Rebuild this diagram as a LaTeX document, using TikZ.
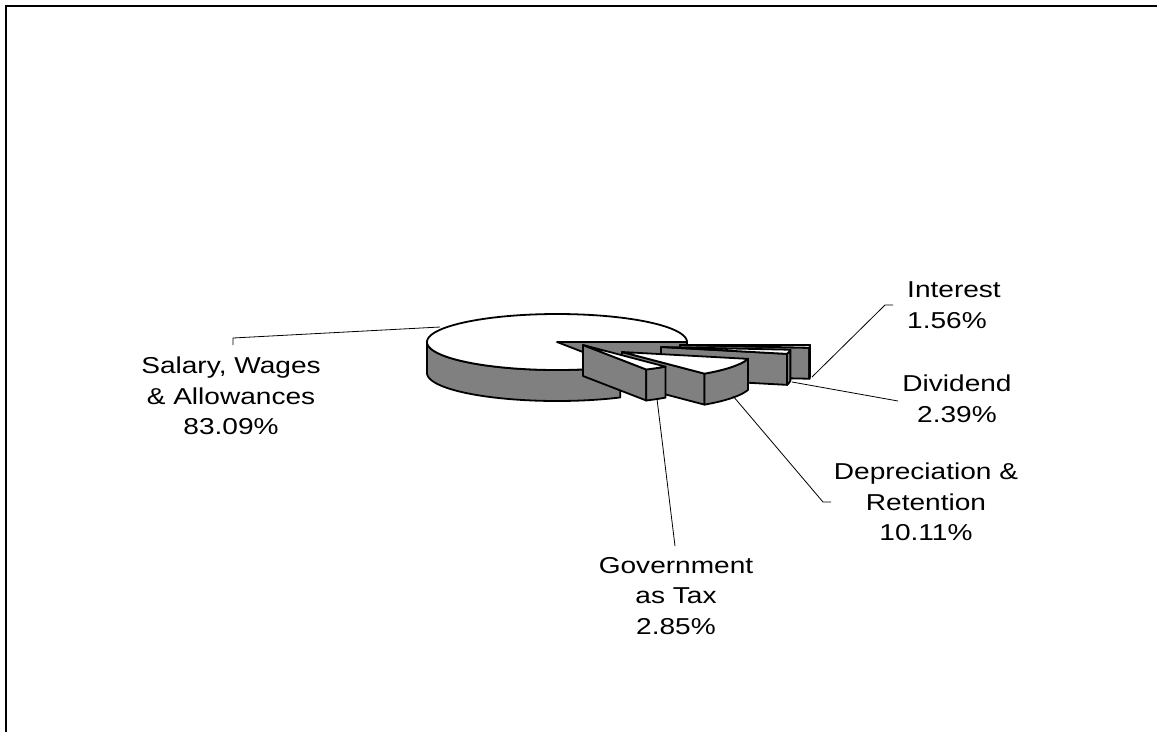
\documentclass[tikz,border=0pt]{standalone}
\usepackage{fontspec}
\newfontfamily\labfont[FakeStretch=1.22]{Liberation Sans}
\definecolor{pgray}{RGB}{128,128,128}
\newcommand\xslice[4]{%
  \filldraw[sideface] ({#1},{#2}) -- ({#1+130*cos(#3)},{#2-28*sin(#3)}) -- ({#1+130*cos(#3)},{#2-28*sin(#3)+31}) -- ({#1},{#2+31}) -- cycle;
  \filldraw[sideface] plot[domain=#3:#4,samples=24] ({#1+130*cos(\x)},{#2-28*sin(\x)}) -- plot[domain=#4:#3,samples=24] ({#1+130*cos(\x)},{#2-28*sin(\x)+31}) -- cycle;
  \filldraw[topface] ({#1},{#2}) -- plot[domain=#3:#4,samples=24] ({#1+130*cos(\x)},{#2-28*sin(\x)}) -- cycle;
}
\begin{document}
\begin{tikzpicture}[x=1pt,y=-1pt,
  sideface/.style={fill=pgray, draw=black, line width=1.8pt, line join=round},
  topface/.style={fill=white, draw=black, line width=1.8pt, line join=round},
  leader/.style={draw=black, line width=0.8pt},
  lab/.style={font=\labfont\fontsize{23}{30.5}\selectfont, align=center, inner sep=0pt}]
\useasboundingbox (0,0) rectangle (1157,732);
% frame
\draw[line width=1.6pt] (6,732) -- (6,6) -- (1157,6);
% big slice
\filldraw[sideface] (557,342) -- (687,342) -- (687,373) -- (557,373) -- cycle;
\filldraw[sideface] plot[domain=180:299.1,samples=50] ({557+130*cos(\x)},{342-28*sin(\x)}) -- plot[domain=299.1:180,samples=50] ({557+130*cos(\x)},{373-28*sin(\x)}) -- cycle;
\filldraw[topface] (557,342) -- plot[domain=0:299.1,samples=100] ({557+130*cos(\x)},{342-28*sin(\x)}) -- cycle;
% exploded slices
\xslice{680}{345}{-5.6}{0}
\xslice{661}{347}{-14.2}{-5.6}
\xslice{622}{352}{-50.6}{-14.2}
\xslice{583}{345}{-60.9}{-50.6}
% labels
\node[lab] (sal) at (231,396) {Salary, Wages\\\& Allowances\\83.09\%};
\node[lab, align=left, anchor=west] (int) at (907,305) {Interest\\1.56\%};
\node[lab] (div) at (957,399) {Dividend\\2.39\%};
\node[lab] (dep) at (926,502) {Depreciation \&\\Retention\\10.11\%};
\node[lab] (gov) at (676,596) {Government\\as Tax\\2.85\%};
% leader ends
\coordinate (psal) at (440,327);
\coordinate (tsal) at (233,338);
\coordinate (lsal) at (233,345);
\coordinate (pint) at (812,377);
\coordinate (tint) at (885,305);
\coordinate (lint) at (893,305);
\coordinate (pdiv) at (792,382);
\coordinate (ldiv) at (898,401);
\coordinate (pdep) at (733,396);
\coordinate (tdep) at (823,502);
\coordinate (ldep) at (831,502);
\coordinate (pgov) at (657,399);
\coordinate (lgov) at (675,546);
\draw[leader] (psal) -- (tsal) -- (lsal);
\draw[leader] (pint) -- (tint) -- (lint);
\draw[leader] (pdiv) -- (ldiv);
\draw[leader] (pdep) -- (tdep) -- (ldep);
\draw[leader] (pgov) -- (lgov);
\end{tikzpicture}
\end{document}
